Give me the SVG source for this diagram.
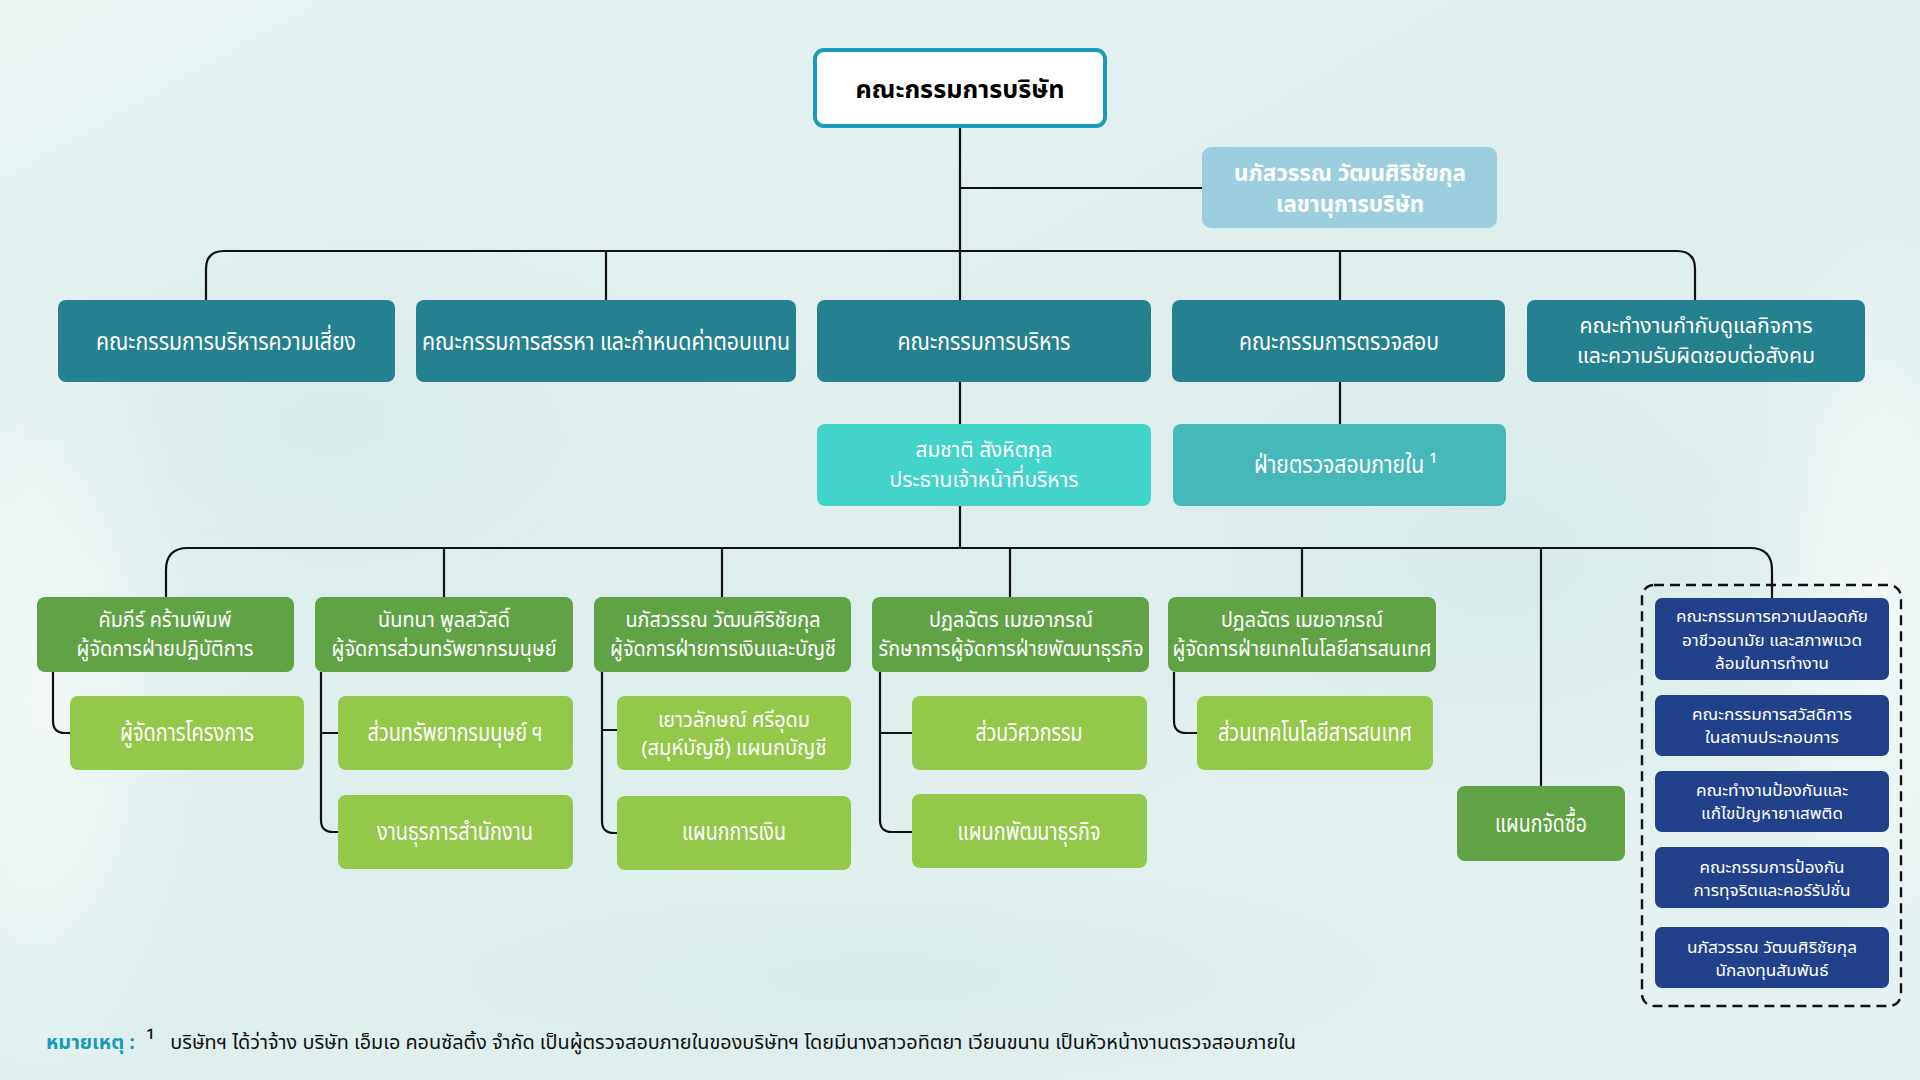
<svg xmlns="http://www.w3.org/2000/svg" width="1920" height="1080" viewBox="0 0 1920 1080">
<defs>
<linearGradient id="bg" x1="0" y1="0" x2="1" y2="1">
<stop offset="0" stop-color="#e9f4f3"/>
<stop offset="0.5" stop-color="#deeeed"/>
<stop offset="1" stop-color="#e6f2f1"/>
</linearGradient>
<radialGradient id="blot1" cx="0.5" cy="0.5" r="0.5">
<stop offset="0" stop-color="#d3e8e7" stop-opacity="0.7"/>
<stop offset="1" stop-color="#d3e8e7" stop-opacity="0"/>
</radialGradient>
<radialGradient id="blot2" cx="0.5" cy="0.5" r="0.5">
<stop offset="0" stop-color="#f4faf9" stop-opacity="0.9"/>
<stop offset="1" stop-color="#f4faf9" stop-opacity="0"/>
</radialGradient>
</defs>
<style>
.t{font-family:"Noto Sans Thai","Noto Sans Thai UI","Noto Sans","DejaVu Sans",sans-serif;fill:#ffffff;text-anchor:middle}
.c{font-size:25px}
.c2{font-size:22px}
.c4{font-size:21px}
.c3{font-size:20.5px}
.b{font-size:16.8px}
.bold{font-weight:bold}
.conn{fill:none;stroke:#111111;stroke-width:2.2;stroke-linejoin:round}
.l2{fill:#25808f}
.sec{fill:#9bcfde}
.ceo{fill:#42d3c9}
.aud{fill:#46b8b9}
.dg{fill:#5fa344}
.lg{fill:#93c84b}
.bl{fill:#22418b}
</style>
<rect width="1920" height="1080" fill="url(#bg)"/>
<ellipse cx="330" cy="420" rx="420" ry="260" fill="url(#blot1)"/>
<ellipse cx="1500" cy="560" rx="380" ry="260" fill="url(#blot1)"/>
<ellipse cx="40" cy="700" rx="160" ry="420" fill="url(#blot2)"/>
<ellipse cx="1880" cy="600" rx="140" ry="380" fill="url(#blot2)"/>
<ellipse cx="900" cy="980" rx="600" ry="120" fill="url(#blot1)"/>

<g id="connectors">
<path class="conn" d="M960,128 V424"/>
<path class="conn" d="M960,188 H1202"/>
<path class="conn" d="M206,300 V269 Q206,251 224,251 H1677 Q1695,251 1695,269 V300"/>
<path class="conn" d="M606,251 V300"/>
<path class="conn" d="M1340,251 V424"/>
<path class="conn" d="M960,506 V548"/>
<path class="conn" d="M166,597 V570 Q166,548 188,548 H1750 Q1772,548 1772,570 V598"/>
<path class="conn" d="M444,548 V597"/>
<path class="conn" d="M722,548 V597"/>
<path class="conn" d="M1010,548 V597"/>
<path class="conn" d="M1302,548 V597"/>
<path class="conn" d="M1541,548 V786"/>
<path class="conn" d="M53,672 V721 Q53,733 65,733 H70"/>
<path class="conn" d="M321,672 V820 Q321,832 333,832 H338 M321,733 H338"/>
<path class="conn" d="M602,672 V821 Q602,833 614,833 H617 M602,730 H617"/>
<path class="conn" d="M880,672 V820 Q880,832 892,832 H912 M880,733 H912"/>
<path class="conn" d="M1174,672 V721 Q1174,733 1186,733 H1197"/>
</g>

<g id="board">
<rect x="815" y="50" width="290" height="76" rx="9" fill="#ffffff" stroke="#1a9bba" stroke-width="4"/>
<text class="t bold" x="960" y="98" font-size="25" style="fill:#000" textLength="209" lengthAdjust="spacingAndGlyphs">คณะกรรมการบริษัท</text>
</g>

<g id="secretary">
<rect class="sec" x="1202" y="147" width="295" height="81" rx="9"/>
<text class="t bold" font-size="22.5"><tspan x="1350" y="181" textLength="232" lengthAdjust="spacingAndGlyphs">นภัสวรรณ วัฒนศิริชัยกุล</tspan><tspan x="1350" y="212" textLength="148" lengthAdjust="spacingAndGlyphs">เลขานุการบริษัท</tspan></text>
</g>

<g id="risk">
<rect class="l2" x="58" y="300" width="337" height="82" rx="8"/>
<text class="t c" x="226" y="350" textLength="260" lengthAdjust="spacingAndGlyphs">คณะกรรมการบริหารความเสี่ยง</text>
</g>
<g id="nomination">
<rect class="l2" x="416" y="300" width="380" height="82" rx="8"/>
<text class="t c" x="606" y="350" textLength="368" lengthAdjust="spacingAndGlyphs">คณะกรรมการสรรหา และกำหนดค่าตอบแทน</text>
</g>
<g id="executive">
<rect class="l2" x="817" y="300" width="334" height="82" rx="8"/>
<text class="t c" x="984" y="350" textLength="173" lengthAdjust="spacingAndGlyphs">คณะกรรมการบริหาร</text>
</g>
<g id="audit">
<rect class="l2" x="1172" y="300" width="333" height="82" rx="8"/>
<text class="t c" x="1339" y="350" textLength="200" lengthAdjust="spacingAndGlyphs">คณะกรรมการตรวจสอบ</text>
</g>
<g id="cg">
<rect class="l2" x="1527" y="300" width="338" height="82" rx="8"/>
<text class="t c2"><tspan x="1696" y="333" textLength="233" lengthAdjust="spacingAndGlyphs">คณะทำงานกำกับดูแลกิจการ</tspan><tspan x="1696" y="363" textLength="238" lengthAdjust="spacingAndGlyphs">และความรับผิดชอบต่อสังคม</tspan></text>
</g>

<g id="ceo">
<rect class="ceo" x="817" y="424" width="334" height="82" rx="8"/>
<text class="t c2"><tspan x="984" y="457" textLength="137" lengthAdjust="spacingAndGlyphs">สมชาติ สังหิตกุล</tspan><tspan x="984" y="487" textLength="189" lengthAdjust="spacingAndGlyphs">ประธานเจ้าหน้าที่บริหาร</tspan></text>
</g>
<g id="internal-audit">
<rect class="aud" x="1173" y="424" width="333" height="82" rx="8"/>
<text class="t" font-size="24" style="text-anchor:start" x="1254" y="473" textLength="183" lengthAdjust="spacingAndGlyphs">ฝ่ายตรวจสอบภายใน ¹</text>
</g>

<g id="ops">
<rect class="dg" x="37" y="597" width="257" height="75" rx="8"/>
<text class="t c4"><tspan x="165" y="627" textLength="133" lengthAdjust="spacingAndGlyphs">คัมภีร์ คร้ามพิมพ์</tspan><tspan x="165" y="656" textLength="177" lengthAdjust="spacingAndGlyphs">ผู้จัดการฝ่ายปฏิบัติการ</tspan></text>
</g>
<g id="hr">
<rect class="dg" x="315" y="597" width="258" height="75" rx="8"/>
<text class="t c4"><tspan x="444" y="627" textLength="132" lengthAdjust="spacingAndGlyphs">นันทนา พูลสวัสดิ์</tspan><tspan x="444" y="656" textLength="225" lengthAdjust="spacingAndGlyphs">ผู้จัดการส่วนทรัพยากรมนุษย์</tspan></text>
</g>
<g id="finance">
<rect class="dg" x="594" y="597" width="257" height="75" rx="8"/>
<text class="t c4"><tspan x="723" y="627" textLength="195" lengthAdjust="spacingAndGlyphs">นภัสวรรณ วัฒนศิริชัยกุล</tspan><tspan x="723" y="656" textLength="226" lengthAdjust="spacingAndGlyphs">ผู้จัดการฝ่ายการเงินและบัญชี</tspan></text>
</g>
<g id="bizdev">
<rect class="dg" x="872" y="597" width="277" height="75" rx="8"/>
<text class="t c4"><tspan x="1011" y="627" textLength="164" lengthAdjust="spacingAndGlyphs">ปฏลฉัตร เมฆอาภรณ์</tspan><tspan x="1011" y="656" textLength="265" lengthAdjust="spacingAndGlyphs">รักษาการผู้จัดการฝ่ายพัฒนาธุรกิจ</tspan></text>
</g>
<g id="it">
<rect class="dg" x="1168" y="597" width="268" height="75" rx="8"/>
<text class="t c4"><tspan x="1302" y="627" textLength="162" lengthAdjust="spacingAndGlyphs">ปฏลฉัตร เมฆอาภรณ์</tspan><tspan x="1302" y="656" textLength="259" lengthAdjust="spacingAndGlyphs">ผู้จัดการฝ่ายเทคโนโลยีสารสนเทศ</tspan></text>
</g>

<g id="pm">
<rect class="lg" x="70" y="696" width="234" height="74" rx="8"/>
<text class="t c" x="187" y="741" textLength="134" lengthAdjust="spacingAndGlyphs">ผู้จัดการโครงการ</text>
</g>
<g id="hr-sec">
<rect class="lg" x="338" y="696" width="235" height="74" rx="8"/>
<text class="t c" x="455" y="741" textLength="175" lengthAdjust="spacingAndGlyphs">ส่วนทรัพยากรมนุษย์ ฯ</text>
</g>
<g id="admin">
<rect class="lg" x="338" y="795" width="235" height="74" rx="8"/>
<text class="t c" x="455" y="840" textLength="156" lengthAdjust="spacingAndGlyphs">งานธุรการสำนักงาน</text>
</g>
<g id="accounting">
<rect class="lg" x="617" y="696" width="234" height="74" rx="8"/>
<text class="t c3"><tspan x="734" y="727" textLength="152" lengthAdjust="spacingAndGlyphs">เยาวลักษณ์ ศรีอุดม</tspan><tspan x="734" y="755" textLength="185" lengthAdjust="spacingAndGlyphs">(สมุห์บัญชี) แผนกบัญชี</tspan></text>
</g>
<g id="fin-dept">
<rect class="lg" x="617" y="796" width="234" height="74" rx="8"/>
<text class="t c" x="734" y="840" textLength="104" lengthAdjust="spacingAndGlyphs">แผนกการเงิน</text>
</g>
<g id="eng">
<rect class="lg" x="912" y="696" width="235" height="74" rx="8"/>
<text class="t c" x="1029" y="741" textLength="107" lengthAdjust="spacingAndGlyphs">ส่วนวิศวกรรม</text>
</g>
<g id="bizdev-dept">
<rect class="lg" x="912" y="794" width="235" height="74" rx="8"/>
<text class="t c" x="1029" y="840" textLength="143" lengthAdjust="spacingAndGlyphs">แผนกพัฒนาธุรกิจ</text>
</g>
<g id="it-sec">
<rect class="lg" x="1197" y="696" width="236" height="74" rx="8"/>
<text class="t c" x="1315" y="741" textLength="194" lengthAdjust="spacingAndGlyphs">ส่วนเทคโนโลยีสารสนเทศ</text>
</g>
<g id="purchasing">
<rect class="dg" x="1457" y="786" width="168" height="75" rx="8"/>
<text class="t c" x="1541" y="832" textLength="92" lengthAdjust="spacingAndGlyphs">แผนกจัดซื้อ</text>
</g>

<g id="committees">
<rect x="1642" y="585" width="259" height="421" rx="12" fill="none" stroke="#111111" stroke-width="2.4" stroke-dasharray="10 6"/>
</g>
<g id="safety">
<rect class="bl" x="1655" y="598" width="234" height="82" rx="7"/>
<text class="t b"><tspan x="1772" y="622" textLength="192" lengthAdjust="spacingAndGlyphs">คณะกรรมการความปลอดภัย</tspan><tspan x="1772" y="645.5" textLength="180" lengthAdjust="spacingAndGlyphs">อาชีวอนามัย และสภาพแวด</tspan><tspan x="1772" y="669" textLength="114" lengthAdjust="spacingAndGlyphs">ล้อมในการทำงาน</tspan></text>
</g>
<g id="welfare">
<rect class="bl" x="1655" y="695" width="234" height="61" rx="7"/>
<text class="t b"><tspan x="1772" y="720" textLength="160" lengthAdjust="spacingAndGlyphs">คณะกรรมการสวัสดิการ</tspan><tspan x="1772" y="743" textLength="134" lengthAdjust="spacingAndGlyphs">ในสถานประกอบการ</tspan></text>
</g>
<g id="drugs">
<rect class="bl" x="1655" y="771" width="234" height="61" rx="7"/>
<text class="t b"><tspan x="1772" y="796" textLength="152" lengthAdjust="spacingAndGlyphs">คณะทำงานป้องกันและ</tspan><tspan x="1772" y="819" textLength="142" lengthAdjust="spacingAndGlyphs">แก้ไขปัญหายาเสพติด</tspan></text>
</g>
<g id="anticorruption">
<rect class="bl" x="1655" y="847" width="234" height="61" rx="7"/>
<text class="t b"><tspan x="1772" y="873" textLength="145" lengthAdjust="spacingAndGlyphs">คณะกรรมการป้องกัน</tspan><tspan x="1772" y="896" textLength="157" lengthAdjust="spacingAndGlyphs">การทุจริตและคอร์รัปชั่น</tspan></text>
</g>
<g id="ir">
<rect class="bl" x="1655" y="927" width="234" height="61" rx="7"/>
<text class="t b"><tspan x="1772" y="953" textLength="170" lengthAdjust="spacingAndGlyphs">นภัสวรรณ วัฒนศิริชัยกุล</tspan><tspan x="1772" y="976" textLength="113" lengthAdjust="spacingAndGlyphs">นักลงทุนสัมพันธ์</tspan></text>
</g>

<g id="footnote">
<text class="t" font-size="19" style="fill:#111;text-anchor:start"><tspan x="46" y="1049" font-size="20" font-weight="bold" style="fill:#1b9ab7" textLength="89" lengthAdjust="spacingAndGlyphs">หมายเหตุ :</tspan><tspan x="146" y="1049" textLength="1150" lengthAdjust="spacingAndGlyphs"><tspan font-size="24">¹</tspan>&#160;&#160;&#160;บริษัทฯ ได้ว่าจ้าง บริษัท เอ็มเอ คอนซัลติ้ง จำกัด เป็นผู้ตรวจสอบภายในของบริษัทฯ โดยมีนางสาวอทิตยา เวียนขนาน เป็นหัวหน้างานตรวจสอบภายใน</tspan></text>
</g>
</svg>
